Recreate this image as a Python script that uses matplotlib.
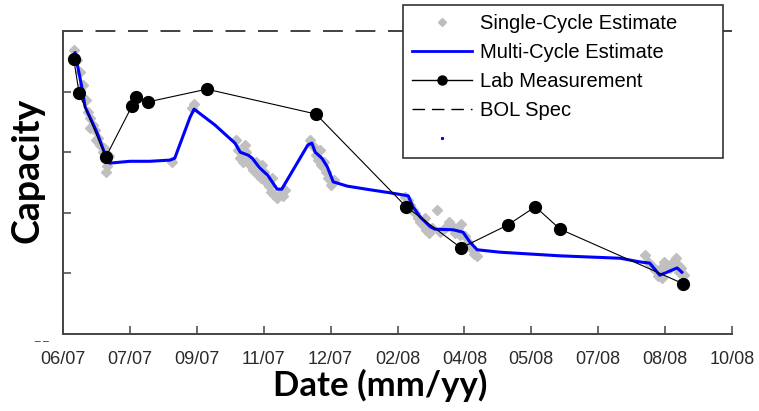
import matplotlib
matplotlib.use("Agg")
import matplotlib.pyplot as plt
from matplotlib.lines import Line2D

# ---- data (x in tick-interval units from 06/07, y capacity in arbitrary units) ----
tick_labels = ["06/07", "07/07", "09/07", "11/07", "12/07", "02/08",
               "04/08", "05/08", "07/08", "08/08", "10/08"]
bol_spec = 5.0

lab_x = [0.16, 0.24, 0.64, 1.03, 1.09, 1.27, 2.15, 3.78, 5.13, 5.95, 6.65, 7.06, 7.43, 9.27]
lab_y = [4.54, 3.98, 2.92, 3.76, 3.91, 3.83, 4.04, 3.63, 2.10, 1.42, 1.80, 2.10, 1.73, 0.83]

multi_x = [0.18, 0.28, 0.33, 0.51, 0.66, 0.70, 1.00, 1.30, 1.60, 1.67, 1.90, 1.96,
           2.27, 2.57, 2.65, 2.77, 2.83, 2.94, 3.06, 3.20, 3.27, 3.66, 3.72, 3.77,
           3.87, 3.95, 4.04, 4.25, 4.59, 4.89, 5.16, 5.23, 5.34, 5.49, 5.56, 5.83,
           5.98, 6.08, 6.19, 6.53, 7.43, 8.33, 8.62, 8.77, 8.92, 9.03, 9.18, 9.25]
multi_y = [4.64, 4.08, 3.75, 3.32, 2.87, 2.82, 2.85, 2.85, 2.87, 2.90, 3.58, 3.71,
           3.45, 3.15, 3.00, 2.95, 2.90, 2.74, 2.62, 2.39, 2.39, 3.12, 3.15, 3.00,
           2.90, 2.76, 2.51, 2.44, 2.38, 2.33, 2.28, 2.10, 1.93, 1.77, 1.73, 1.72,
           1.68, 1.52, 1.39, 1.35, 1.29, 1.25, 1.19, 1.17, 0.97, 1.02, 1.09, 1.02]

single_x = [0.16, 0.21, 0.25, 0.30, 0.34, 0.37, 0.40, 0.45, 0.48, 0.52, 0.55, 0.60,
            0.63, 0.66, 0.64, 0.61, 0.49, 0.40, 0.69, 1.63, 1.96, 1.93,
            2.59, 2.62, 2.65, 2.69, 2.74, 2.77, 2.80, 2.84, 2.89, 2.92, 2.96, 3.00,
            3.03, 3.08, 3.11, 3.15, 3.20, 3.24, 3.29, 3.32, 2.98, 3.12, 2.72,
            3.69, 3.74, 3.78, 3.81, 3.86, 3.90, 3.93, 3.96, 4.01, 4.05, 3.84,
            5.11, 5.16, 5.19, 5.23, 5.26, 5.31, 5.34, 5.38, 5.43, 5.47, 5.52, 5.59,
            5.64, 5.71, 5.77, 5.82, 5.86, 5.91, 5.95, 6.01, 6.05, 6.10, 6.14, 6.19,
            5.94, 5.41,
            8.70, 8.75, 8.81, 8.85, 8.90, 8.94, 8.98, 9.03, 9.07, 9.12, 9.16, 9.19,
            9.24, 9.28, 9.21, 8.96]
single_y = [4.69, 4.52, 4.32, 4.11, 3.86, 3.66, 3.56, 3.45, 3.37, 3.23, 3.12, 3.00,
            2.90, 2.77, 2.67, 3.07, 3.20, 3.40, 2.94, 2.84, 3.80, 3.73,
            3.20, 3.04, 2.90, 2.84, 3.00, 2.87, 2.79, 2.71, 2.84, 2.62, 2.57, 2.67,
            2.51, 2.44, 2.34, 2.29, 2.24, 2.31, 2.28, 2.38, 2.79, 2.57, 3.12,
            3.20, 3.10, 2.95, 2.87, 2.79, 2.84, 2.67, 2.57, 2.46, 2.54, 3.04,
            2.26, 2.21, 2.13, 2.05, 2.00, 1.91, 1.85, 1.80, 1.72, 1.67, 1.75, 2.05,
            1.68, 1.75, 1.85, 1.78, 1.67, 1.75, 1.82, 1.62, 1.52, 1.42, 1.32, 1.29,
            1.63, 1.91,
            1.30, 1.19, 1.12, 1.06, 0.96, 1.09, 1.19, 1.14, 1.09, 1.19, 1.25, 1.14,
            1.09, 0.97, 1.02, 0.92]

# ---- figure ----
W, H = 759, 411
fig = plt.figure(figsize=(W / 100, H / 100), dpi=100)
ax = fig.add_axes([63 / W, 1 - 334 / H, (732 - 63) / W, (334 - 31) / H])

ax.plot(single_x, single_y, ls="none", marker="D", ms=5.5, color="#c0c0c0",
        mec="#c0c0c0", zorder=2, label="Single-Cycle Estimate")
ax.plot(multi_x, multi_y, color="#0000ff", lw=2.2, zorder=3,
        label="Multi-Cycle Estimate")
ax.plot(lab_x, lab_y, color="black", lw=0.8, marker="o", ms=8.5, zorder=4,
        label="Lab Measurement")
ax.axhline(bol_spec, color="#333333", lw=1.3, dashes=(11, 7), zorder=1,
           clip_on=False, label="BOL Spec")

ax.set_xlim(0, 10)
ax.set_ylim(0, 5)
ax.set_xticks(range(len(tick_labels)))
ax.set_xticklabels(tick_labels)
ax.set_yticks([1, 2, 3, 4])
ax.set_yticklabels([])
for s in ("top", "right"):
    ax.spines[s].set_visible(False)
for s in ("left", "bottom"):
    ax.spines[s].set_color("#444444")
    ax.spines[s].set_linewidth(1.4)
ax.tick_params(direction="in", length=6, width=1.1, color="#444444",
               labelsize=13, labelcolor="#2a2a2a", pad=12)
for t in ax.get_xticklabels():
    t.set_fontfamily("Liberation Sans")

handles = [
    Line2D([], [], ls="none", marker="D", ms=4, color="#bdbdbd"),
    Line2D([], [], color="#0000ff", lw=2),
    Line2D([], [], color="black", lw=1, marker="o", ms=6.5),
    Line2D([], [], color="black", lw=1, dashes=(9, 5)),
    Line2D([], [], ls="none", marker="s", ms=1.2, color="#0000ff"),
]
labels = ["Single-Cycle Estimate", "Multi-Cycle Estimate", "Lab Measurement",
          "BOL Spec", " "]
leg = fig.legend(handles, labels, loc="upper left",
                 bbox_to_anchor=(403 / W, 1 - 152 / H, 320 / W, 147 / H),
                 bbox_transform=fig.transFigure, mode="expand",
                 frameon=True, fancybox=False, edgecolor="#333333", framealpha=1,
                 prop={"family": "Liberation Sans", "size": 14.5},
                 handlelength=3.0, handletextpad=0.35, labelspacing=0.5,
                 borderpad=0.45, borderaxespad=0)
leg.get_frame().set_linewidth(1.2)
leg.set_zorder(10)

fig.text(28 / W, 1 - 170 / H, "Capacity", rotation=90, ha="center", va="center",
         fontsize=27, fontweight="bold", family="Lato")
fig.text(380 / W, 1 - 385 / H, "Date (mm/yy)", ha="center", va="center",
         fontsize=25, fontweight="bold", family="Lato")
fig.text(41 / W, 1 - 341 / H, "_ _", ha="center", va="bottom", fontsize=8,
         color="#333333")

fig.savefig("out.png", dpi=100)
